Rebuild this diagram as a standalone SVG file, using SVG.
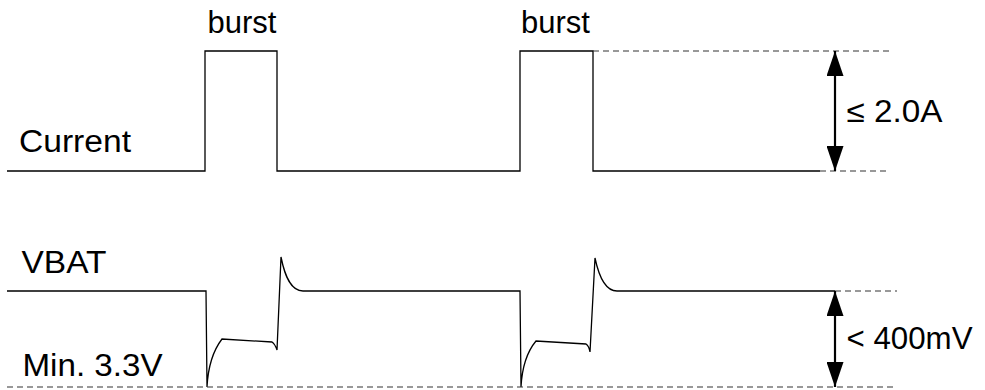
<svg xmlns="http://www.w3.org/2000/svg" width="985" height="390" viewBox="0 0 985 390">
<style>
.lbl{font-family:"Liberation Sans",Arial,sans-serif;font-size:31px;fill:#000}
.trace{fill:none;stroke:#000;stroke-width:1.3}
.dash{fill:none;stroke:#333;stroke-width:1.1;stroke-dasharray:6 4}
.dim{fill:none;stroke:#000;stroke-width:2.2}
</style>
<defs>
<marker id="ah" viewBox="0 0 25 17" refX="25" refY="8.5" markerWidth="25" markerHeight="17" markerUnits="userSpaceOnUse" orient="auto-start-reverse">
<path d="M0,0 L25,8.5 L0,17 Z" fill="#000"/>
</marker>
</defs>
<rect width="985" height="390" fill="#fff"/>
<g id="current-trace">
<path class="trace" d="M7,171 H205 V51 H277 V171 H520 V51 H593 V171 H820"/>
</g>
<g id="vbat-trace">
<path class="trace" d="M7,291 H206 L207,387 C208,368 212,352 222,339 L272,342 Q275,344 277,350 L281,257 C285,277 291,291 303,291 H520 L521,387 C522,368 526,353 536,341 L586,344 Q589,346 590,352 L595,258 C599,277 605,291 617,291 H835"/>
</g>
<g id="connectors">
<path class="dash" d="M593,51 H892"/>
<path class="dash" d="M820,171 H887"/>
<path class="dash" d="M835,291 H897"/>
<path class="dash" d="M7,387 H897"/>
<line class="dim" x1="835" y1="51" x2="835" y2="171" marker-start="url(#ah)" marker-end="url(#ah)"/>
<line class="dim" x1="835" y1="291" x2="835" y2="387" marker-start="url(#ah)" marker-end="url(#ah)"/>
</g>
<g id="labels">
<text class="lbl" x="207.5" y="33">burst</text>
<text class="lbl" x="521" y="33">burst</text>
<text class="lbl" x="19" y="152" textLength="112" lengthAdjust="spacingAndGlyphs">Current</text>
<text class="lbl" x="21.5" y="272.5" textLength="85" lengthAdjust="spacingAndGlyphs">VBAT</text>
<text class="lbl" x="22.5" y="376" textLength="140" lengthAdjust="spacingAndGlyphs">Min. 3.3V</text>
<text class="lbl" x="846.5" y="122" textLength="96" lengthAdjust="spacingAndGlyphs">≤ 2.0A</text>
<text class="lbl" x="846.5" y="349" textLength="126" lengthAdjust="spacingAndGlyphs">&lt; 400mV</text>
</g>
</svg>
